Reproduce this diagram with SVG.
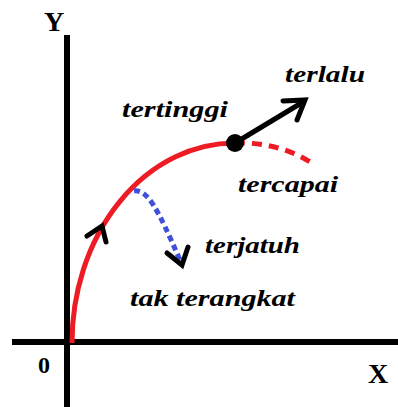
<svg xmlns="http://www.w3.org/2000/svg" width="398" height="407" viewBox="0 0 398 407">
<style>
.axis{stroke:#000;stroke-width:6;fill:none}
.lbl{font-family:"Liberation Serif","Times New Roman","DejaVu Serif",serif;font-weight:bold;font-style:italic;font-size:24px;fill:#000}
.ax{font-family:"Liberation Serif","Times New Roman",serif;font-weight:bold;font-size:28px;fill:#000}
.blk{stroke:#000;stroke-width:5;fill:none;stroke-linecap:round;stroke-linejoin:miter}
.red{stroke:#ed1c24;stroke-width:5;fill:none}
.blue{stroke:#4050d8;stroke-width:5;fill:none;stroke-dasharray:6 4}
</style>
<rect width="398" height="407" fill="#fff"/>
<g id="axes">
<line class="axis" x1="67" y1="35" x2="67" y2="407"/>
<line class="axis" x1="12" y1="342" x2="398" y2="342"/>
<text class="ax" x="54" y="31" text-anchor="middle">Y</text>
<text class="ax" x="378" y="383" text-anchor="middle">X</text>
<text class="ax" x="44" y="373" text-anchor="middle" style="font-size:24px">0</text>
</g>
<g id="connectors">
<path class="red" d="M72,343 A163,200 0 0 1 235,143"/>
<path class="red" d="M235,143 C260,142 290,148 313,164" stroke-dasharray="10 7"/>
<path class="blue" d="M134,191 C148,189 158,210 180,260"/>
<path class="blk" d="M87,236 L102,226 L106,242"/>
<path class="blk" d="M167,253 L182,265 L188,247"/>
<line class="blk" x1="235" y1="143" x2="303" y2="102"/>
<path class="blk" d="M283,101 L305,100 L297,120"/>
</g>
<g id="puncak">
<circle cx="235" cy="143" r="9" fill="#000"/>
</g>
<g id="labels">
<text class="lbl" x="122" y="117" textLength="106" lengthAdjust="spacingAndGlyphs">tertinggi</text>
<text class="lbl" x="285" y="82" textLength="80" lengthAdjust="spacingAndGlyphs">terlalu</text>
<text class="lbl" x="238" y="192" textLength="100" lengthAdjust="spacingAndGlyphs">tercapai</text>
<text class="lbl" x="205" y="253" textLength="95" lengthAdjust="spacingAndGlyphs">terjatuh</text>
<text class="lbl" x="130" y="306" textLength="165" lengthAdjust="spacingAndGlyphs">tak terangkat</text>
</g>
</svg>
